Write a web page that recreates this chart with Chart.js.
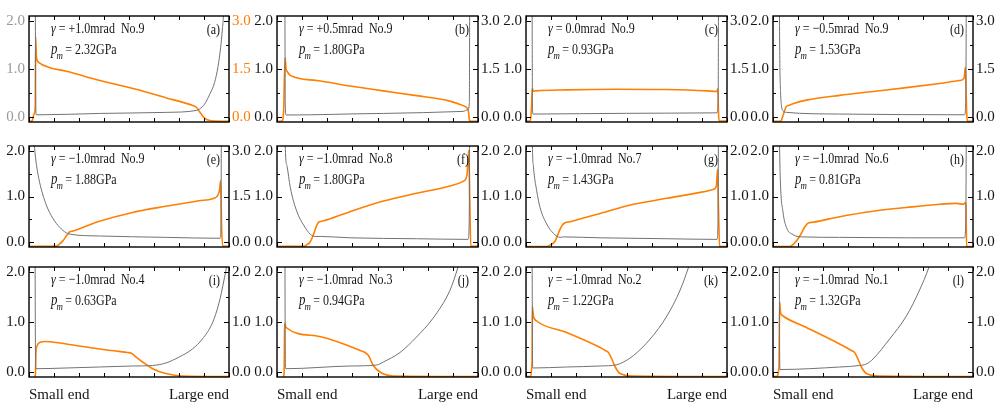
<!DOCTYPE html>
<html><head><meta charset="utf-8">
<script src="https://cdn.jsdelivr.net/npm/chart.js@4/dist/chart.umd.min.js"></script>
<style>
html,body{margin:0;padding:0;background:#fff;}
#wrap{position:relative;width:995px;height:408px;overflow:hidden;background:#fff;}
#wrap canvas{position:absolute;}
</style></head><body><div id="wrap"></div>
<script>
// ---------- data ----------
const panelTags = ['(a)','(b)','(c)','(d)','(e)','(f)','(g)','(h)','(i)','(j)','(k)','(l)'];
const gammaValues = ['+1.0','+0.5','0.0','\u22120.5','\u22121.0','\u22121.0','\u22121.0','\u22121.0','\u22121.0','\u22121.0','\u22121.0','\u22121.0'];
const sampleNumbers = ['9','9','9','9','9','8','7','6','4','3','2','1'];
const pmValues = ['2.32','1.80','0.93','1.53','1.88','1.80','1.43','0.81','0.63','0.94','1.22','1.32'];
const leftAxisMax = [2,2,2,2,2,2,2,2,2,2,2,2];
const rightAxisMax = [3,3,3,3,3,2,2,2,2,2,2,2];
const xTickLabels = ['Small end','Large end'];

const grayA = [[0.031,3],[0.0335,0.5],[0.036,0.05],[0.06,0.05],[0.353,0.078],[0.687,0.1],[0.837,0.14],[0.853,0.17],[0.878,0.27],[0.903,0.47],[0.928,0.72],[0.945,1.05],[0.958,1.44],[0.967,1.83],[0.972,2.1],[0.976,2.6]];
const orangeA = [[0,-0.13],[0.015,-0.12],[0.025,0.1],[0.031,0.3],[0.0335,2.49],[0.037,1.9],[0.041,1.77],[0.05,1.7],[0.1,1.55],[0.187,1.43],[0.354,1.14],[0.52,0.89],[0.687,0.6],[0.82,0.36],[0.837,0.31],[0.853,0.17],[0.87,0.02],[0.89,-0.08],[0.93,-0.12],[1,-0.13]];

const grayB = [[0.039,3],[0.041,0.3],[0.045,0.045],[0.529,0.078],[0.926,0.12],[0.95,0.155],[0.957,0.3],[0.959,3]];
const orangeB = [[0,-0.13],[0.025,-0.12],[0.033,0.2],[0.04,1.86],[0.045,1.5],[0.05,1.43],[0.066,1.3],[0.198,1.14],[0.364,0.97],[0.529,0.82],[0.694,0.67],[0.86,0.5],[0.926,0.36],[0.942,0.31],[0.952,0.2],[0.958,-0.1],[0.965,-0.13],[1,-0.13]];

const grayC = [[0.03,3],[0.032,0.3],[0.034,0.065],[0.5,0.08],[0.95,0.09],[0.956,0.3],[0.958,3]];
const orangeC = [[0,-0.12],[0.022,-0.11],[0.028,0.4],[0.031,0.87],[0.033,0.88],[0.036,0.81],[0.05,0.82],[0.2,0.85],[0.45,0.87],[0.7,0.86],[0.9,0.82],[0.95,0.8],[0.954,0.88],[0.957,0.3],[0.96,-0.11],[1,-0.12]];

const grayD = [[0.031,3],[0.034,1.2],[0.038,0.5],[0.042,0.25],[0.05,0.13],[0.067,0.1],[0.333,0.065],[0.958,0.05],[0.964,0.4],[0.967,3]];
const orangeD = [[0,-0.13],[0.035,-0.13],[0.042,-0.1],[0.05,0.05],[0.058,0.2],[0.066,0.33],[0.075,0.36],[0.1,0.42],[0.167,0.53],[0.333,0.68],[0.5,0.8],[0.667,0.92],[0.833,1.05],[0.933,1.14],[0.955,1.21],[0.962,1.55],[0.965,1.0],[0.968,0.2],[0.972,-0.12],[1,-0.13]];

const grayE = [[0.022,2.4],[0.028,2.05],[0.037,1.7],[0.053,1.31],[0.086,0.82],[0.12,0.52],[0.153,0.33],[0.186,0.21],[0.203,0.18],[0.352,0.14],[0.684,0.11],[0.955,0.09],[0.96,0.4],[0.962,3]];
const orangeE = [[0,-0.13],[0.136,-0.12],[0.153,-0.05],[0.169,0.05],[0.186,0.2],[0.203,0.34],[0.219,0.37],[0.269,0.49],[0.352,0.69],[0.518,0.98],[0.684,1.18],[0.85,1.36],[0.917,1.43],[0.942,1.52],[0.953,1.72],[0.958,2.02],[0.963,0.49],[0.97,-0.12],[1,-0.13]];

const grayF = [[0.039,3],[0.041,2.1],[0.05,1.66],[0.066,1.2],[0.099,0.67],[0.132,0.38],[0.165,0.18],[0.19,0.13],[0.215,0.13],[0.364,0.1],[0.694,0.08],[0.95,0.066],[0.956,0.4],[0.959,3]];
const orangeF = [[0,-0.085],[0.132,-0.085],[0.149,-0.05],[0.165,0.01],[0.182,0.18],[0.198,0.375],[0.207,0.44],[0.223,0.46],[0.281,0.54],[0.364,0.67],[0.529,0.9],[0.694,1.07],[0.86,1.23],[0.926,1.33],[0.945,1.46],[0.954,2.0],[0.959,0.97],[0.964,-0.085],[1,-0.085]];

const grayG = [[0.03,3],[0.032,2.1],[0.037,1.66],[0.053,1.13],[0.07,0.76],[0.103,0.4],[0.136,0.2],[0.169,0.11],[0.186,0.12],[0.369,0.1],[0.701,0.08],[0.95,0.066],[0.955,0.4],[0.958,3]];
const orangeG = [[0,-0.09],[0.103,-0.09],[0.12,-0.06],[0.145,0.03],[0.161,0.2],[0.178,0.36],[0.194,0.43],[0.219,0.45],[0.286,0.53],[0.369,0.63],[0.535,0.83],[0.701,0.96],[0.867,1.09],[0.934,1.16],[0.947,1.23],[0.953,1.59],[0.958,0.66],[0.963,-0.09],[1,-0.09]];

const grayH = [[0.031,3],[0.033,2.1],[0.037,1.32],[0.05,0.66],[0.067,0.33],[0.1,0.17],[0.15,0.12],[0.333,0.11],[0.667,0.1],[0.958,0.1],[0.964,0.5],[0.967,3]];
const orangeH = [[0,-0.09],[0.083,-0.09],[0.1,-0.05],[0.133,0.13],[0.158,0.33],[0.175,0.42],[0.2,0.44],[0.333,0.56],[0.5,0.68],[0.667,0.76],[0.833,0.83],[0.917,0.85],[0.953,0.83],[0.962,0.87],[0.965,0.79],[0.968,-0.09],[1,-0.09]];

const grayI = [[0.03,3],[0.032,0.5],[0.034,0.066],[0.1,0.07],[0.352,0.1],[0.518,0.12],[0.618,0.13],[0.684,0.18],[0.751,0.3],[0.817,0.46],[0.867,0.66],[0.917,0.98],[0.95,1.38],[0.975,1.84],[0.987,2.1],[0.995,2.4]];
const orangeI = [[0.028,-0.09],[0.032,-0.05],[0.035,0.4],[0.04,0.52],[0.053,0.59],[0.086,0.61],[0.186,0.56],[0.352,0.46],[0.493,0.39],[0.51,0.38],[0.535,0.3],[0.568,0.2],[0.618,0.066],[0.684,-0.03],[0.767,-0.08],[1,-0.09]];

const grayJ = [[0.039,3],[0.041,0.5],[0.043,0.066],[0.364,0.12],[0.496,0.14],[0.529,0.2],[0.612,0.39],[0.694,0.7],[0.777,1.08],[0.86,1.63],[0.901,2.1],[0.93,2.5]];
const orangeJ = [[0.03,-0.09],[0.035,-0.05],[0.037,0.5],[0.038,0.98],[0.045,0.89],[0.198,0.72],[0.364,0.51],[0.413,0.43],[0.438,0.39],[0.455,0.33],[0.479,0.13],[0.512,0.0],[0.579,-0.08],[1,-0.09]];

const grayK = [[0.03,3],[0.032,0.5],[0.034,0.08],[0.2,0.1],[0.369,0.12],[0.452,0.145],[0.485,0.2],[0.535,0.33],[0.618,0.66],[0.701,1.12],[0.767,1.64],[0.809,2.1],[0.84,2.5]];
const orangeK = [[0,-0.09],[0.02,-0.09],[0.03,0.2],[0.032,1.31],[0.037,1.12],[0.053,1.02],[0.203,0.79],[0.369,0.49],[0.394,0.43],[0.41,0.39],[0.427,0.26],[0.444,0.1],[0.468,-0.03],[0.535,-0.08],[1,-0.09]];

const grayL = [[0.031,3],[0.033,0.5],[0.035,0.05],[0.333,0.1],[0.433,0.13],[0.467,0.16],[0.5,0.26],[0.583,0.66],[0.667,1.12],[0.733,1.64],[0.78,2.1],[0.81,2.5]];
const orangeL = [[0,-0.09],[0.017,-0.09],[0.03,0.1],[0.033,1.41],[0.038,1.18],[0.042,1.15],[0.05,1.12],[0.167,0.89],[0.333,0.56],[0.392,0.43],[0.408,0.39],[0.425,0.26],[0.442,0.1],[0.467,-0.03],[0.533,-0.08],[1,-0.09]];

const graySeries = [grayA,grayB,grayC,grayD,grayE,grayF,grayG,grayH,grayI,grayJ,grayK,grayL];
const orangeSeries = [orangeA,orangeB,orangeC,orangeD,orangeE,orangeF,orangeG,orangeH,orangeI,orangeJ,orangeK,orangeL];

// ---------- styling / layout ----------
const GRAY = '#727272', ORANGE = '#ff7f00', INK = '#151515';
const FONT = '"Liberation Serif", "Times New Roman", serif';
const colL = [29, 277, 526, 773], colR = [229, 478, 727, 973];
const rowT = [13, 143, 264], rowB = [127, 252, 377];
const SIDE = 30, TOP = 10;

const frameTicks = {
  id: 'frameTicks',
  afterDatasetsDraw(chart) {
    const {ctx, chartArea: a, scales} = chart;
    ctx.save();
    ctx.strokeStyle = '#000';
    ctx.lineWidth = 1;
    const seg = (x1, y1, x2, y2) => { ctx.beginPath(); ctx.moveTo(x1, y1); ctx.lineTo(x2, y2); ctx.stroke(); };
    scales.x.ticks.forEach(t => {
      const px = Math.round(scales.x.getPixelForValue(t.value)) + 0.5;
      seg(px, a.bottom, px, a.bottom - 4);
      seg(px, a.top, px, a.top + 4);
    });
    const yTicks = (sc, left) => {
      sc.ticks.forEach(t => {
        const py = Math.round(sc.getPixelForValue(t.value)) + 0.5;
        const len = t.label ? 5 : 3;
        if (left) seg(a.left, py, a.left + len, py); else seg(a.right, py, a.right - len, py);
      });
    };
    yTicks(scales.y, true);
    yTicks(scales.y2, false);
    ctx.lineWidth = 1.4;
    ctx.strokeRect(a.left, a.top, a.right - a.left, a.bottom - a.top);
    ctx.restore();
  }
};

const panelText = {
  id: 'panelText',
  afterDatasetsDraw(chart, args, o) {
    if (!o || !o.tag) return;
    const {ctx, chartArea: a} = chart;
    const sx = 0.8;
    ctx.save();
    ctx.fillStyle = INK;
    ctx.textBaseline = 'alphabetic';
    // line 1
    ctx.save();
    ctx.translate(a.left + 22, a.top + 17);
    ctx.scale(sx, 1);
    ctx.font = 'italic 15px ' + FONT;
    ctx.fillText('\u03b3', 0, 0);
    let x = ctx.measureText('\u03b3').width;
    ctx.font = '15px ' + FONT;
    ctx.fillText(' = ' + o.gamma + 'mrad  No.' + o.no, x, 0);
    ctx.restore();
    // line 2
    ctx.save();
    ctx.translate(a.left + 22, a.top + 38);
    ctx.scale(sx, 1);
    ctx.font = 'italic 16px ' + FONT;
    ctx.fillText('p', 0, 0);
    x = ctx.measureText('p').width;
    ctx.font = 'italic 11px ' + FONT;
    ctx.fillText('m', x - 1, 5);
    ctx.font = '15px ' + FONT;
    ctx.fillText(' = ' + o.pm + 'GPa', x + 6, 0);
    ctx.restore();
    // tag
    ctx.save();
    ctx.translate(a.right - 9, a.top + 18);
    ctx.scale(sx, 1);
    ctx.font = '15px ' + FONT;
    ctx.textAlign = 'right';
    ctx.fillText(o.tag, 0, 0);
    ctx.restore();
    ctx.restore();
  }
};
Chart.register(frameTicks, panelText);

const wrap = document.getElementById('wrap');
panelTags.forEach((tag, i) => {
  const r = Math.floor(i / 4), c = i % 4;
  const bottomRow = r === 2;
  const xH = bottomRow ? 30 : 8;
  const w = colR[c] - colL[c] + 2 * SIDE;
  const h = rowB[r] - rowT[r] + TOP + xH;
  const cv = document.createElement('canvas');
  cv.width = w; cv.height = h;
  cv.style.left = (colL[c] - SIDE) + 'px';
  cv.style.top = (rowT[r] - TOP) + 'px';
  cv.style.width = w + 'px'; cv.style.height = h + 'px';
  wrap.appendChild(cv);

  const lm = leftAxisMax[i], rm = rightAxisMax[i];
  const leftColor = i === 0 ? '#9a9a9a' : INK;
  const rightColor = i === 0 ? ORANGE : INK;
  const half = (v, m) => Math.abs(v / (m / 2) - Math.round(v / (m / 2))) < 1e-6;

  new Chart(cv, {
    type: 'line',
    data: {
      datasets: [
        { data: graySeries[i].map(([x, y]) => ({x, y})), yAxisID: 'y', borderColor: GRAY, borderWidth: 1,
          pointRadius: 0, cubicInterpolationMode: 'monotone', fill: false },
        { data: orangeSeries[i].map(([x, y]) => ({x, y})), yAxisID: 'y2', borderColor: ORANGE, borderWidth: 1.6,
          pointRadius: 0, cubicInterpolationMode: 'monotone', fill: false }
      ]
    },
    options: {
      responsive: false, animation: false, devicePixelRatio: 1,
      layout: { padding: { top: TOP, left: 0, right: 0, bottom: 0 } },
      plugins: {
        legend: { display: false }, tooltip: { enabled: false },
        panelText: { tag, gamma: gammaValues[i], no: sampleNumbers[i], pm: pmValues[i] }
      },
      scales: {
        x: {
          type: 'linear', min: 0, max: 1,
          grid: { display: false, drawTicks: false }, border: { display: false },
          ticks: {
            display: bottomRow, stepSize: 0.125, autoSkip: false, maxRotation: 0, align: 'inner',
            padding: 9, color: INK, font: { family: FONT, size: 15 },
            callback: v => v === 0 ? xTickLabels[0] : (v === 1 ? xTickLabels[1] : '')
          },
          afterFit: s => { s.height = xH; }
        },
        y: {
          position: 'left', min: -0.05 * lm, max: 1.05 * lm,
          grid: { display: false, drawTicks: false }, border: { display: false },
          ticks: { stepSize: lm / 4, includeBounds: false, autoSkip: false, padding: 4, color: leftColor,
            font: { family: FONT, size: 15 }, callback: v => half(v, lm) ? v.toFixed(1) : '' },
          afterFit: s => { s.width = SIDE; }
        },
        y2: {
          position: 'right', min: -0.05 * rm, max: 1.05 * rm,
          grid: { display: false, drawTicks: false }, border: { display: false },
          ticks: { stepSize: rm / 4, includeBounds: false, autoSkip: false, padding: 3, color: rightColor,
            font: { family: FONT, size: 15 }, callback: v => half(v, rm) ? v.toFixed(1) : '' },
          afterFit: s => { s.width = SIDE; }
        }
      }
    }
  });
});
</script></body></html>
